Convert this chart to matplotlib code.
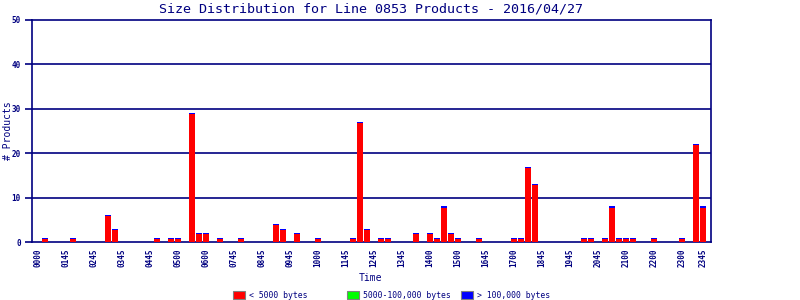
import matplotlib
matplotlib.use("Agg")
import matplotlib.pyplot as plt
from matplotlib.patches import Rectangle
import numpy as np

# ---- data ----
n_slots = 96
small_slots = [1, 5, 10, 11, 17, 19, 20, 22, 23, 24, 26, 29, 34, 35, 37, 40,
               45, 46, 47, 49, 50, 54, 56, 57, 58, 59, 60, 63, 68, 69, 70, 71,
               78, 79, 81, 82, 83, 84, 85, 88, 92, 94, 95]
small_values = [1, 1, 6, 3, 1, 1, 1, 29, 2, 2, 1, 1, 4, 3, 2, 1,
                1, 27, 3, 1, 1, 2, 2, 1, 8, 2, 1, 1, 1, 1, 17, 13,
                1, 1, 1, 8, 1, 1, 1, 1, 1, 22, 8]
tick_slots = [0, 4, 8, 12, 16, 20, 24, 28, 32, 36, 40, 44, 48, 52, 56, 60,
              64, 68, 72, 76, 80, 84, 88, 92, 95]
tick_labels = ["0000", "0145", "0245", "0345", "0445", "0500", "0600", "0745",
               "0845", "0945", "1000", "1145", "1245", "1345", "1400", "1500",
               "1645", "1700", "1845", "1945", "2045", "2100", "2200", "2300",
               "2345"]
legend_labels = ["< 5000 bytes", "5000-100,000 bytes", "> 100,000 bytes"]
legend_colors = ["#ff0000", "#00ff00", "#0000ff"]
y_ticks = [0, 10, 20, 30, 40, 50]

navy = "#000080"
mono = "DejaVu Sans Mono"

fig = plt.figure(figsize=(8, 3), dpi=100)
ax = fig.add_axes([32/800, 1-242/300, 679/800, 222/300])

x = np.array(small_slots)
v = np.array(small_values, dtype=float)
cap = 0.25
ax.bar(x, v, width=0.86, color="#0000ff", linewidth=0, zorder=3)
ax.bar(x, v - cap, width=0.86, color="#ff0000", linewidth=0, zorder=4)

ax.set_xlim(-0.86, 96.14)
ax.set_ylim(0, 50)
for yv in y_ticks[1:-1]:
    ax.axhline(yv, color=navy, lw=1.2, zorder=2)

for s in ax.spines.values():
    s.set_color(navy)
    s.set_linewidth(1.2)

ax.set_yticks(y_ticks)
ax.set_yticklabels([str(t) for t in y_ticks], fontfamily=mono, fontsize=5.5,
                   color=navy, fontweight="bold")
ax.tick_params(axis="y", direction="out", length=5, width=1.2, color=navy, pad=3)
ax.set_xticks(tick_slots)
ax.set_xticklabels(tick_labels, rotation=90, fontfamily=mono, fontsize=5.5,
                   color=navy, fontweight="bold")
ax.tick_params(axis="x", length=0, pad=5)

fig.text(371/800, 1-9/300, "Size Distribution for Line 0853 Products - 2016/04/27",
         ha="center", va="center", fontfamily=mono, fontsize=9.6, color=navy)
fig.text(370/800, 1-278/300, "Time", ha="center", va="center",
         fontfamily=mono, fontsize=7, color=navy)
fig.text(8/800, 1-131/300, "# Products", ha="center", va="center",
         rotation=90, fontfamily=mono, fontsize=7, color=navy)

box_x = [233, 347, 461]
for bx, lab, col in zip(box_x, legend_labels, legend_colors):
    fig.patches.append(Rectangle((bx/800, 1-299/300), 12/800, 8/300,
                                 transform=fig.transFigure, facecolor=col,
                                 edgecolor="#808080", linewidth=0.8))
    fig.text((bx+16)/800, 1-295/300, lab, ha="left", va="center",
             fontfamily=mono, fontsize=5.9, color=navy)

fig.savefig("out.png", dpi=100)
